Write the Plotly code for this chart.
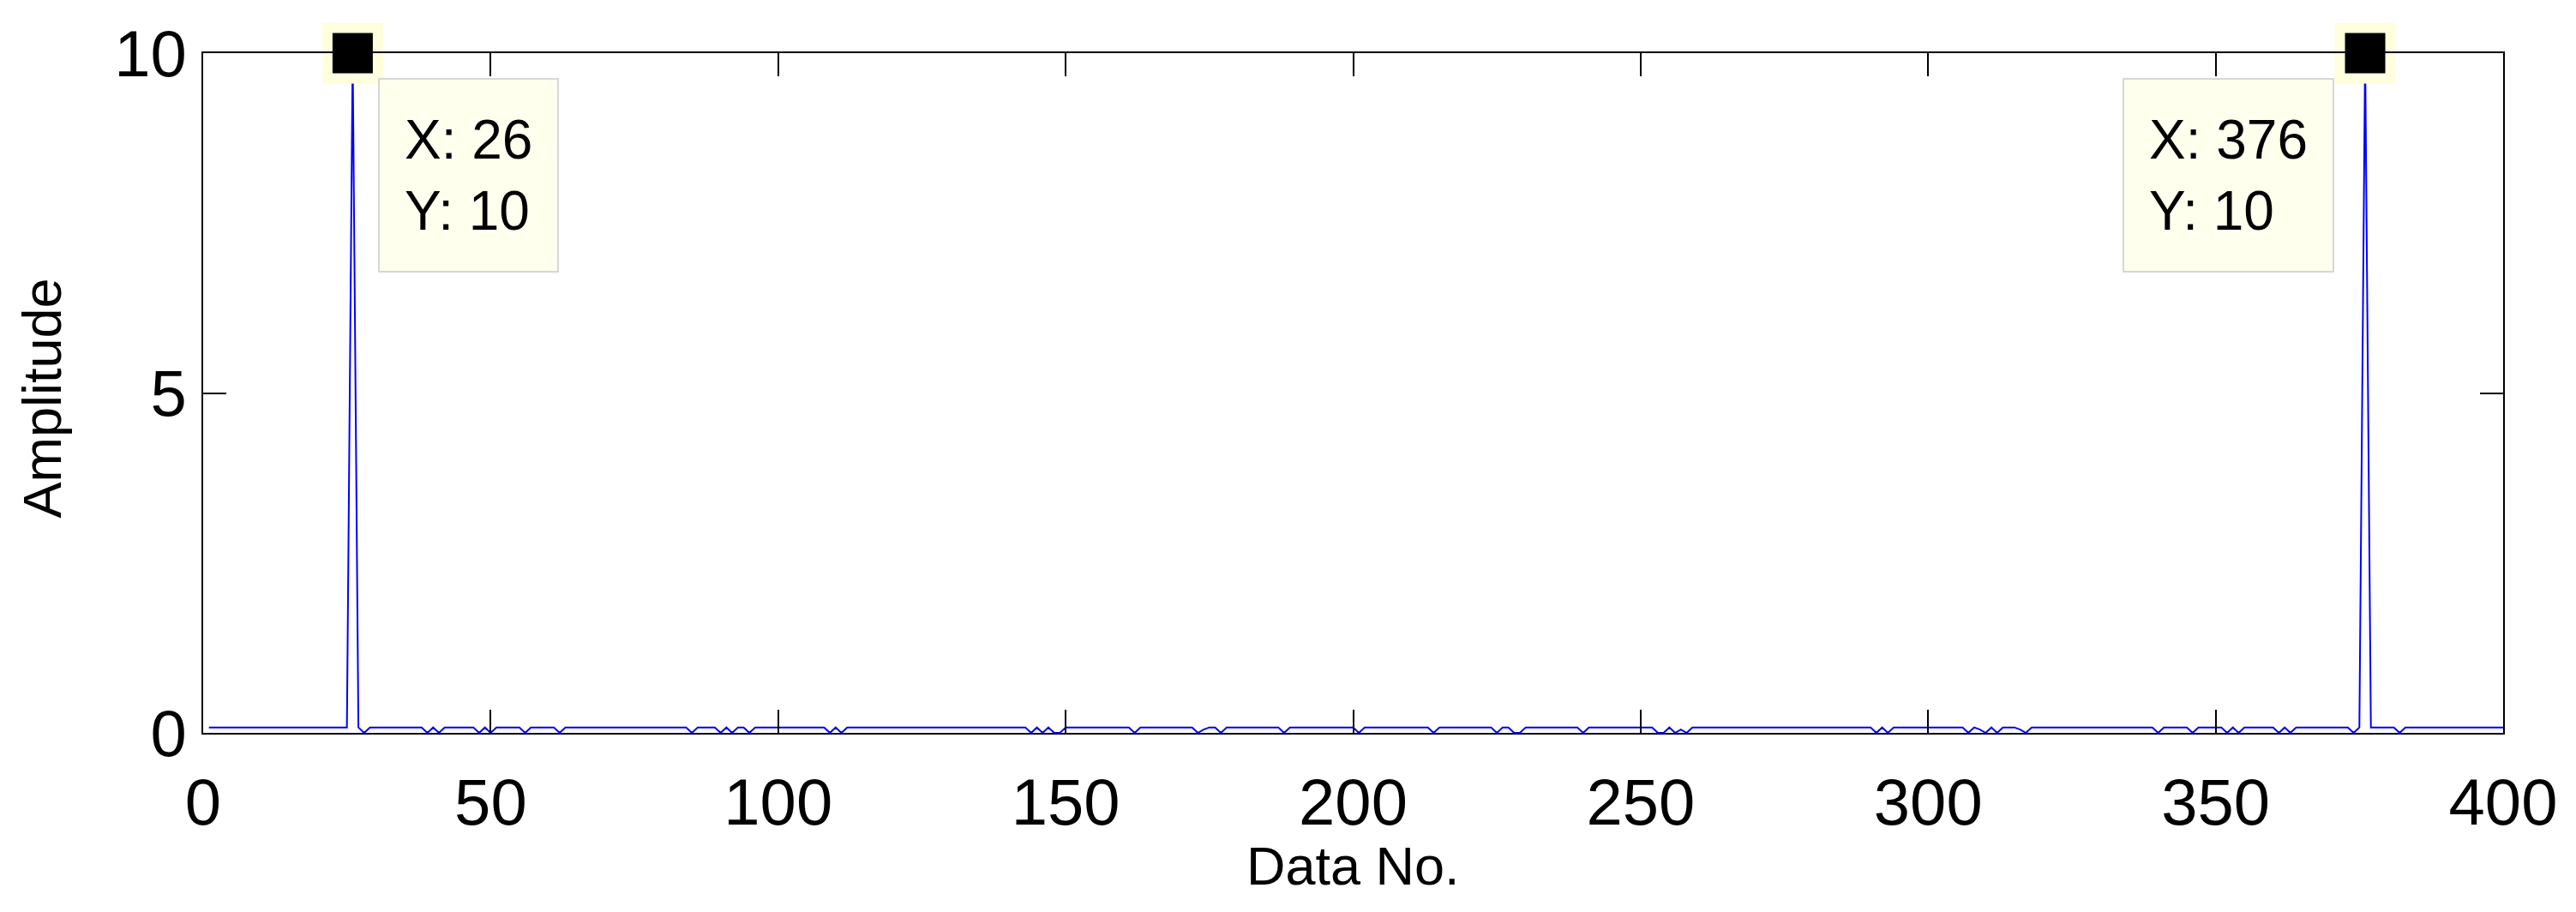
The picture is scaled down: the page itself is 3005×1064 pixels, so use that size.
import plotly.graph_objects as go

# ---- data ----
data_no = list(range(1, 401))

amplitude = [
    0.08, 0.08, 0.08, 0.08, 0.08, 0.08, 0.08, 0.08, 0.08, 0.08,   # 1-10
    0.08, 0.08, 0.08, 0.08, 0.08, 0.08, 0.08, 0.08, 0.08, 0.08,   # 11-20
    0.08, 0.08, 0.08, 0.08, 0.08, 10.0, 0.08, 0.0, 0.08, 0.08,    # 21-30
    0.08, 0.08, 0.08, 0.08, 0.08, 0.08, 0.08, 0.08, 0.0, 0.08,    # 31-40
    0.0, 0.08, 0.08, 0.08, 0.08, 0.08, 0.08, 0.0, 0.08, 0.0,      # 41-50
    0.08, 0.08, 0.08, 0.08, 0.08, 0.0, 0.08, 0.08, 0.08, 0.08,    # 51-60
    0.08, 0.0, 0.08, 0.08, 0.08, 0.08, 0.08, 0.08, 0.08, 0.08,    # 61-70
    0.08, 0.08, 0.08, 0.08, 0.08, 0.08, 0.08, 0.08, 0.08, 0.08,   # 71-80
    0.08, 0.08, 0.08, 0.08, 0.0, 0.08, 0.08, 0.08, 0.08, 0.0,     # 81-90
    0.08, 0.0, 0.08, 0.08, 0.0, 0.08, 0.08, 0.08, 0.08, 0.08,     # 91-100
    0.08, 0.08, 0.08, 0.08, 0.08, 0.08, 0.08, 0.08, 0.0, 0.08,    # 101-110
    0.0, 0.08, 0.08, 0.08, 0.08, 0.08, 0.08, 0.08, 0.08, 0.08,    # 111-120
    0.08, 0.08, 0.08, 0.08, 0.08, 0.08, 0.08, 0.08, 0.08, 0.08,   # 121-130
    0.08, 0.08, 0.08, 0.08, 0.08, 0.08, 0.08, 0.08, 0.08, 0.08,   # 131-140
    0.08, 0.08, 0.08, 0.0, 0.08, 0.0, 0.08, 0.0, 0.0, 0.08,       # 141-150
    0.08, 0.08, 0.08, 0.08, 0.08, 0.08, 0.08, 0.08, 0.08, 0.08,   # 151-160
    0.08, 0.0, 0.08, 0.08, 0.08, 0.08, 0.08, 0.08, 0.08, 0.08,    # 161-170
    0.08, 0.08, 0.0, 0.05, 0.08, 0.08, 0.0, 0.08, 0.08, 0.08,     # 171-180
    0.08, 0.08, 0.08, 0.08, 0.08, 0.08, 0.08, 0.0, 0.08, 0.08,    # 181-190
    0.08, 0.08, 0.08, 0.08, 0.08, 0.08, 0.08, 0.08, 0.08, 0.08,   # 191-200
    0.0, 0.08, 0.08, 0.08, 0.08, 0.08, 0.08, 0.08, 0.08, 0.08,    # 201-210
    0.08, 0.08, 0.08, 0.0, 0.08, 0.08, 0.08, 0.08, 0.08, 0.08,    # 211-220
    0.08, 0.08, 0.08, 0.08, 0.0, 0.08, 0.08, 0.0, 0.0, 0.08,      # 221-230
    0.08, 0.08, 0.08, 0.08, 0.08, 0.08, 0.08, 0.08, 0.08, 0.0,    # 231-240
    0.08, 0.08, 0.08, 0.08, 0.08, 0.08, 0.08, 0.08, 0.08, 0.08,   # 241-250
    0.08, 0.08, 0.0, 0.0, 0.08, 0.0, 0.05, 0.0, 0.08, 0.08,       # 251-260
    0.08, 0.08, 0.08, 0.08, 0.08, 0.08, 0.08, 0.08, 0.08, 0.08,   # 261-270
    0.08, 0.08, 0.08, 0.08, 0.08, 0.08, 0.08, 0.08, 0.08, 0.08,   # 271-280
    0.08, 0.08, 0.08, 0.08, 0.08, 0.08, 0.08, 0.08, 0.08, 0.08,   # 281-290
    0.0, 0.08, 0.0, 0.08, 0.08, 0.08, 0.08, 0.08, 0.08, 0.08,     # 291-300
    0.08, 0.08, 0.08, 0.08, 0.08, 0.08, 0.0, 0.08, 0.05, 0.0,     # 301-310
    0.08, 0.0, 0.08, 0.08, 0.08, 0.05, 0.0, 0.08, 0.08, 0.08,     # 311-320
    0.08, 0.08, 0.08, 0.08, 0.08, 0.08, 0.08, 0.08, 0.08, 0.08,   # 321-330
    0.08, 0.08, 0.08, 0.08, 0.08, 0.08, 0.08, 0.08, 0.08, 0.0,    # 331-340
    0.08, 0.08, 0.08, 0.08, 0.08, 0.0, 0.08, 0.08, 0.08, 0.08,    # 341-350
    0.08, 0.0, 0.08, 0.0, 0.08, 0.08, 0.08, 0.08, 0.08, 0.08,     # 351-360
    0.0, 0.08, 0.0, 0.08, 0.08, 0.08, 0.08, 0.08, 0.08, 0.08,     # 361-370
    0.08, 0.08, 0.08, 0.0, 0.08, 10.0, 0.08, 0.08, 0.08, 0.08,    # 371-380
    0.08, 0.0, 0.08, 0.08, 0.08, 0.08, 0.08, 0.08, 0.08, 0.08,    # 381-390
    0.08, 0.08, 0.08, 0.08, 0.08, 0.08, 0.08, 0.08, 0.08, 0.08,   # 391-400
]

tip_x = [26, 376]
tip_y = [10, 10]
tip_side = ["right", "left"]

x_ticks = [0, 50, 100, 150, 200, 250, 300, 350, 400]
y_ticks = [0, 5, 10]

FONT = "Liberation Sans, Arial, Helvetica, sans-serif"

fig = go.Figure()
fig.add_trace(go.Scatter(
    x=data_no, y=amplitude, mode="lines",
    line=dict(color="#0000FF", width=2),
    hoverinfo="skip", showlegend=False,
))
fig.add_trace(go.Scatter(
    x=tip_x, y=tip_y, mode="markers",
    marker=dict(symbol="square", size=59, color="black",
                line=dict(color="#FFFFDD", width=12)),
    cliponaxis=False, hoverinfo="skip", showlegend=False,
))

annotations = []
for tx, ty, side in zip(tip_x, tip_y, tip_side):
    annotations.append(dict(
        x=tx, y=ty, xref="x", yref="y",
        text=f"X: {tx}<br>Y: {ty}",
        showarrow=False, align="left", valign="middle",
        height=165,
        xanchor="left" if side == "right" else "right",
        yanchor="top",
        xshift=30 if side == "right" else -36,
        yshift=-29,
        bgcolor="#FFFFEE", bordercolor="#D6D6D6", borderwidth=2,
        borderpad=29,
        font=dict(family=FONT, size=64, color="black"),
    ))

annotations.append(dict(
    text="Data No.", xref="paper", yref="paper", x=0.5, y=0,
    xanchor="center", yanchor="middle", yshift=-155, showarrow=False,
    font=dict(family=FONT, size=63, color="black"),
))
annotations.append(dict(
    text="Amplitude", xref="paper", yref="paper", x=0, y=0.5,
    xanchor="center", yanchor="middle", xshift=-189, yshift=-6,
    textangle=-90, showarrow=False,
    font=dict(family=FONT, size=63, color="black"),
))

axis_common = dict(
    showgrid=False, zeroline=False,
    showline=True, linecolor="black", linewidth=2, mirror="allticks",
    ticks="inside", ticklen=27, tickwidth=1.5, tickcolor="black",
    tickfont=dict(family=FONT, size=76, color="black"),
)

# the page body has an 8px default margin; size the figure to fit the window
fig.update_layout(
    width=2989, height=1048,
    margin=dict(l=229, r=77, t=54, b=201),
    paper_bgcolor="white", plot_bgcolor="white",
    xaxis=dict(range=[0, 400], tickmode="array", tickvals=x_ticks,
               ticklabelstandoff=14, **axis_common),
    yaxis=dict(range=[0, 10], tickmode="array", tickvals=y_ticks,
               ticklabelstandoff=2, **axis_common),
    annotations=annotations,
    showlegend=False,
)

fig.write_html("out.html")
